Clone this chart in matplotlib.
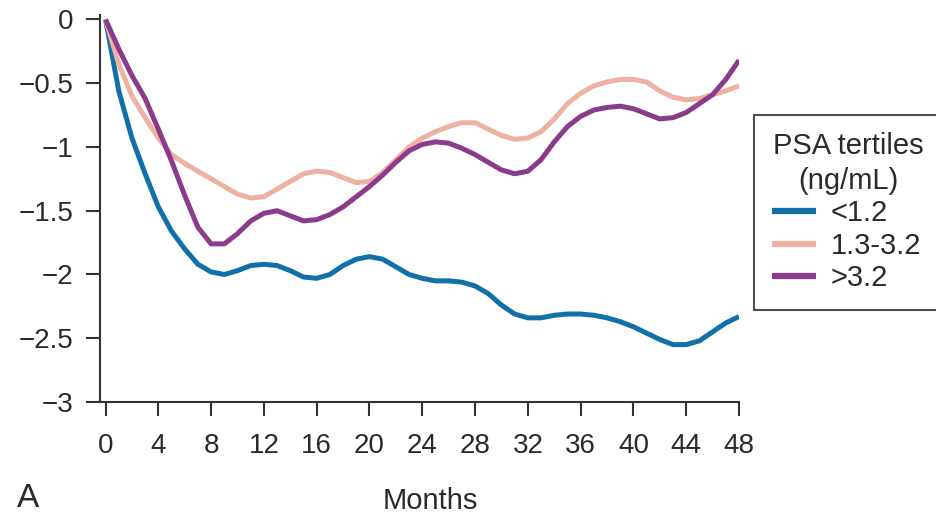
import matplotlib
matplotlib.use("Agg")
import matplotlib.pyplot as plt

plt.rcParams["font.family"] = ["Liberation Sans", "DejaVu Sans"]

months = list(range(49))

psa_low = [0.00, -0.56, -0.93, -1.21, -1.47, -1.66, -1.80, -1.92, -1.98, -2.00,
           -1.97, -1.93, -1.92, -1.93, -1.97, -2.02, -2.03, -2.00, -1.93, -1.88,
           -1.86, -1.88, -1.94, -2.00, -2.03, -2.05, -2.05, -2.06, -2.09, -2.15,
           -2.24, -2.31, -2.34, -2.34, -2.32, -2.31, -2.31, -2.32, -2.34, -2.37,
           -2.41, -2.46, -2.51, -2.55, -2.55, -2.52, -2.45, -2.38, -2.33]

psa_mid = [0.00, -0.35, -0.60, -0.77, -0.93, -1.06, -1.13, -1.19, -1.25, -1.31,
           -1.37, -1.40, -1.39, -1.33, -1.27, -1.21, -1.19, -1.20, -1.24, -1.28,
           -1.27, -1.20, -1.10, -1.00, -0.93, -0.88, -0.84, -0.81, -0.81, -0.86,
           -0.91, -0.94, -0.93, -0.88, -0.78, -0.66, -0.58, -0.52, -0.49, -0.47,
           -0.47, -0.49, -0.56, -0.61, -0.63, -0.62, -0.59, -0.56, -0.52]

psa_high = [0.00, -0.23, -0.44, -0.62, -0.86, -1.11, -1.38, -1.63, -1.76, -1.76,
            -1.68, -1.58, -1.52, -1.50, -1.54, -1.58, -1.57, -1.53, -1.47, -1.39,
            -1.31, -1.22, -1.12, -1.03, -0.98, -0.96, -0.97, -1.01, -1.06, -1.12,
            -1.18, -1.21, -1.19, -1.10, -0.96, -0.84, -0.76, -0.71, -0.69, -0.68,
            -0.70, -0.74, -0.78, -0.77, -0.73, -0.66, -0.59, -0.47, -0.32]

series_labels = ["<1.2", "1.3-3.2", ">3.2"]
series_colors = ["#1170a8", "#efb2a2", "#8a3b8b"]

x_ticks = list(range(0, 49, 4))
y_ticks = [0, -0.5, -1, -1.5, -2, -2.5, -3]
y_tick_labels = ["0", "\u22120.5", "\u22121", "\u22121.5", "\u22122", "\u22122.5", "\u22123"]

W, H = 936, 515
fig = plt.figure(figsize=(W / 100, H / 100), dpi=100)
ax = fig.add_axes([100 / W, 1 - 402 / H, (739 - 100) / W, (402 - 15) / H])

text_color = "#2a2a2a"
for vals, lab, col in zip([psa_low, psa_mid, psa_high], series_labels, series_colors):
    ax.plot(months, vals, color=col, lw=3.6, label=lab, solid_capstyle="butt",
            solid_joinstyle="round")

ax.set_xlim(-0.42, 48)
ax.set_ylim(-3, 0.035)
ax.set_xticks(x_ticks)
ax.set_yticks(y_ticks)
ax.set_yticklabels(y_tick_labels)

for side in ["top", "right"]:
    ax.spines[side].set_visible(False)
for side in ["left", "bottom"]:
    ax.spines[side].set_linewidth(1.5)
    ax.spines[side].set_color("#333333")

ax.tick_params(axis="both", direction="out", length=10, width=1.5, color="#333333",
               labelsize=20, labelcolor=text_color)
ax.tick_params(axis="x", pad=12)
ax.tick_params(axis="y", pad=9)

fig.text(430 / W, 1 - 509 / H, "Months", ha="center", va="baseline",
         fontsize=21, color=text_color)
fig.text(17 / W, 1 - 507 / H, "A", ha="left", va="baseline",
         fontsize=24, color=text_color)

leg = ax.legend(title="PSA tertiles\n(ng/mL)",
                bbox_to_anchor=(754 / W, 1 - 115 / H, (942 - 754) / W, 0.0),
                bbox_transform=fig.transFigure, loc="upper left", mode="expand",
                fontsize=21, title_fontsize=21, frameon=True, fancybox=False,
                handlelength=1.54, handletextpad=0.5, labelspacing=0.15,
                borderpad=0.6, borderaxespad=0.0)
leg.get_frame().set_edgecolor("#222222")
leg.get_frame().set_linewidth(1.5)
leg.get_title().set_multialignment("center")
leg.get_title().set_linespacing(1.3)
leg.get_title().set_color(text_color)
for t in leg.get_texts():
    t.set_color(text_color)
for h in leg.legend_handles:
    h.set_linewidth(4.5)

fig.savefig("out.png", dpi=100)
